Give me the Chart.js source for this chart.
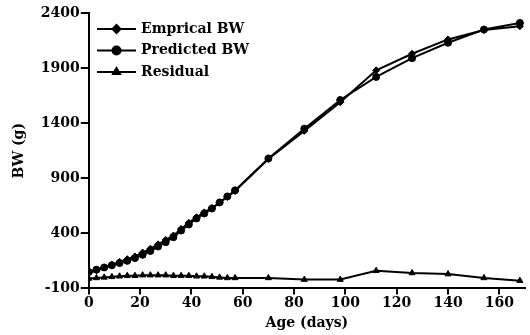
<!DOCTYPE html>
<html>
<head>
<meta charset="utf-8">
<script src="https://cdn.jsdelivr.net/npm/chart.js@4.4.1/dist/chart.umd.min.js"></script>
<style>
  html, body { margin: 0; padding: 0; background: #fff; }
  #wrap { width: 530px; height: 335px; position: relative; }
</style>
</head>
<body>
<div id="wrap"><canvas id="bwChart"></canvas></div>
<script>
/* ── data ── */
const days = [0, 3, 6, 9, 12, 15, 18, 21, 24, 27, 30, 33, 36, 39, 42, 45, 48, 51, 54, 57,
              70, 84, 98, 112, 126, 140, 154, 168];
const empiricalBW = [40, 65, 90, 115, 140, 165, 190, 225, 260, 300, 340, 380, 440, 495, 545, 590, 630, 680, 730, 785,
                     1075, 1330, 1590, 1880, 2030, 2160, 2245, 2280];
const predictedBW = [50, 70, 90, 110, 130, 150, 175, 205, 240, 280, 320, 365, 425, 480, 535, 580, 625, 680, 735, 790,
                     1080, 1350, 1610, 1820, 1990, 2130, 2250, 2310];
const residual = [-10, -5, 0, 5, 10, 15, 15, 20, 20, 20, 20, 15, 15, 15, 10, 10, 5, 0, -5, -5,
                  -5, -20, -20, 60, 40, 30, -5, -30];
const xTicks = [0, 20, 40, 60, 80, 100, 120, 140, 160];
const yTicks = [-100, 400, 900, 1400, 1900, 2400];

const seriesNames = ['Emprical BW', 'Predicted BW', 'Residual'];
const seriesMarks = ['rectRot', 'circle', 'triangle'];

const FONT = "'DejaVu Serif', 'Liberation Serif', serif";
const tickFont = { family: FONT, size: 14, weight: 'bold' };

const toPts = ys => days.map((d, i) => ({ x: d, y: ys[i] }));

// legend drawn inside the plot, line with marker in the middle
const insideLegend = {
  id: 'insideLegend',
  afterDraw(chart) {
    const ctx = chart.ctx;
    const x0 = 97, x1 = 136, y0 = 29, dy = 21.5;
    ctx.save();
    seriesNames.forEach((name, i) => {
      const y = y0 + i * dy;
      ctx.strokeStyle = '#000';
      ctx.lineWidth = 2;
      ctx.beginPath(); ctx.moveTo(x0, y); ctx.lineTo(x1, y); ctx.stroke();
      ctx.fillStyle = '#000';
      Chart.helpers.drawPoint(ctx, { pointStyle: seriesMarks[i], radius: 4, borderWidth: 1 }, (x0 + x1) / 2, y);
      ctx.font = 'bold 14px ' + FONT;
      ctx.textBaseline = 'middle';
      ctx.fillText(name, 141, y);
    });
    ctx.restore();
  }
};

const ds = (label, ys, mark) => ({
  label,
  data: toPts(ys),
  borderColor: '#000',
  backgroundColor: '#000',
  borderWidth: 2,
  pointStyle: mark,
  pointRadius: 3.5,
  pointBorderWidth: 1,
  tension: 0,
});

new Chart(document.getElementById('bwChart'), {
  type: 'line',
  data: {
    datasets: [
      ds(seriesNames[0], empiricalBW, seriesMarks[0]),
      ds(seriesNames[1], predictedBW, seriesMarks[1]),
      ds(seriesNames[2], residual, seriesMarks[2]),
    ],
  },
  options: {
    responsive: true,
    maintainAspectRatio: false,
    animation: false,
    layout: { padding: { top: 13, right: 3, left: 0, bottom: 3 } },
    plugins: { legend: { display: false }, tooltip: { enabled: false } },
    scales: {
      x: {
        type: 'linear',
        min: 0, max: 170,
        afterBuildTicks: a => { a.ticks = xTicks.map(v => ({ value: v })); },
        grid: { drawOnChartArea: false, drawTicks: true, tickLength: 6, color: '#000', lineWidth: 2 },
        border: { display: true, color: '#000', width: 2 },
        ticks: { color: '#000', font: tickFont, padding: 1, maxRotation: 0, callback: v => String(v) },
        title: { display: true, text: 'Age (days)', color: '#000', font: tickFont, padding: { top: 2, bottom: 0 } },
      },
      y: {
        min: -100, max: 2400,
        afterBuildTicks: a => { a.ticks = yTicks.map(v => ({ value: v })); },
        grid: { drawOnChartArea: false, drawTicks: true, tickLength: 8, color: '#000', lineWidth: 2 },
        border: { display: true, color: '#000', width: 2 },
        ticks: { color: '#000', font: tickFont, padding: 1, callback: v => String(v) },
        title: { display: true, text: 'BW (g)', color: '#000', font: tickFont, padding: { top: 11, bottom: 12 } },
      },
    },
  },
  plugins: [insideLegend],
});
</script>
</body>
</html>
